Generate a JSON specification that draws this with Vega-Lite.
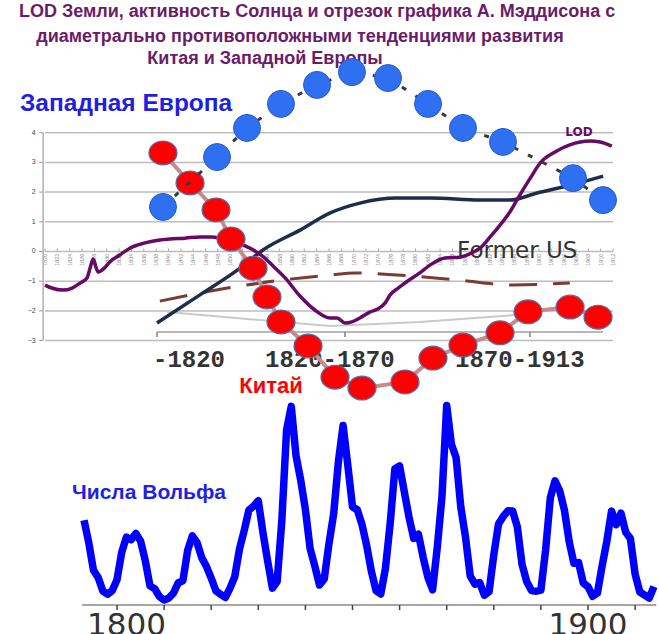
{
  "$schema": "https://vega.github.io/schema/vega-lite/v6.json",
  "width": 659,
  "height": 634,
  "autosize": "none",
  "padding": 0,
  "background": "white",
  "config": {"view": {"stroke": null}, "axis": {"grid": false}},
  "data": {"values": [{}]},
  "datasets": {
    "grid": [{"g": -3}, {"g": -2}, {"g": -1}, {"g": 0}, {"g": 1}, {"g": 2}, {"g": 3}, {"g": 4}],
    "ylabels": [{"yr": 1820}, {"yr": 1822}, {"yr": 1824}, {"yr": 1826}, {"yr": 1828}, {"yr": 1830}, {"yr": 1832}, {"yr": 1834}, {"yr": 1836}, {"yr": 1838}, {"yr": 1840}, {"yr": 1842}, {"yr": 1844}, {"yr": 1846}, {"yr": 1848}, {"yr": 1850}, {"yr": 1852}, {"yr": 1854}, {"yr": 1856}, {"yr": 1858}, {"yr": 1860}, {"yr": 1862}, {"yr": 1864}, {"yr": 1866}, {"yr": 1868}, {"yr": 1870}, {"yr": 1872}, {"yr": 1874}, {"yr": 1876}, {"yr": 1878}, {"yr": 1880}, {"yr": 1882}, {"yr": 1884}, {"yr": 1886}, {"yr": 1888}, {"yr": 1890}, {"yr": 1892}, {"yr": 1894}, {"yr": 1896}, {"yr": 1898}, {"yr": 1900}, {"yr": 1902}, {"yr": 1904}, {"yr": 1906}, {"yr": 1908}, {"yr": 1910}, {"yr": 1912}],
    "wticks": [{"yr": 1800}, {"yr": 1810}, {"yr": 1820}, {"yr": 1830}, {"yr": 1840}, {"yr": 1850}, {"yr": 1860}, {"yr": 1870}, {"yr": 1880}, {"yr": 1890}, {"yr": 1900}, {"yr": 1910}],
    "mticks": [{"year": 1838.14}, {"year": 1868.59}, {"year": 1898.55}],
    "lod": [
      {"year": 1820.0, "value": -1.13}, {"year": 1821.1, "value": -1.23}, {"year": 1822.9, "value": -1.30},
      {"year": 1824.4, "value": -1.23}, {"year": 1825.7, "value": -1.06}, {"year": 1826.8, "value": -0.89},
      {"year": 1827.3, "value": -0.56}, {"year": 1827.8, "value": -0.25}, {"year": 1828.3, "value": -0.56},
      {"year": 1828.6, "value": -0.69}, {"year": 1829.6, "value": -0.56}, {"year": 1830.5, "value": -0.35},
      {"year": 1832.1, "value": -0.12}, {"year": 1833.8, "value": 0.12}, {"year": 1836.2, "value": 0.29},
      {"year": 1838.6, "value": 0.39}, {"year": 1840.2, "value": 0.42}, {"year": 1842.7, "value": 0.45},
      {"year": 1845.1, "value": 0.49}, {"year": 1847.0, "value": 0.49}, {"year": 1848.7, "value": 0.42},
      {"year": 1850.8, "value": 0.29}, {"year": 1852.4, "value": 0.19}, {"year": 1854.0, "value": 0.02},
      {"year": 1855.6, "value": -0.22}, {"year": 1857.3, "value": -0.56}, {"year": 1858.9, "value": -0.89},
      {"year": 1861.3, "value": -1.50}, {"year": 1863.7, "value": -1.97}, {"year": 1866.2, "value": -2.24},
      {"year": 1867.3, "value": -2.24}, {"year": 1868.6, "value": -2.41}, {"year": 1869.7, "value": -2.37},
      {"year": 1871.0, "value": -2.24}, {"year": 1872.6, "value": -2.04}, {"year": 1873.9, "value": -1.94},
      {"year": 1875.1, "value": -1.73}, {"year": 1875.9, "value": -1.46}, {"year": 1877.2, "value": -1.23},
      {"year": 1878.3, "value": -1.06}, {"year": 1880.7, "value": -0.72}, {"year": 1882.4, "value": -0.45},
      {"year": 1884.8, "value": -0.22}, {"year": 1887.2, "value": -0.19}, {"year": 1888.8, "value": -0.08},
      {"year": 1890.5, "value": 0.12}, {"year": 1892.1, "value": 0.49}, {"year": 1893.7, "value": 0.89},
      {"year": 1895.3, "value": 1.33}, {"year": 1896.9, "value": 1.90}, {"year": 1898.6, "value": 2.47},
      {"year": 1900.2, "value": 2.98}, {"year": 1902.6, "value": 3.35}, {"year": 1905.0, "value": 3.59},
      {"year": 1908.3, "value": 3.72}, {"year": 1909.9, "value": 3.69}, {"year": 1911.8, "value": 3.55}
    ],
    "westtrend": [
      {"year": 1838.14, "value": -2.41}, {"year": 1845.1, "value": -1.46}, {"year": 1851.6, "value": -0.56},
      {"year": 1855.3, "value": 0.05}, {"year": 1861.3, "value": 0.72}, {"year": 1866.2, "value": 1.30},
      {"year": 1871.0, "value": 1.63}, {"year": 1877.0, "value": 1.80}, {"year": 1882.4, "value": 1.80},
      {"year": 1890.5, "value": 1.73}, {"year": 1895.3, "value": 1.73}, {"year": 1899.7, "value": 1.97},
      {"year": 1903.9, "value": 2.17}, {"year": 1910.4, "value": 2.54}
    ],
    "ussr": [
      {"year": 1838.6, "value": -1.67}, {"year": 1845.1, "value": -1.40}, {"year": 1850.5, "value": -1.20},
      {"year": 1858.5, "value": -0.96}, {"year": 1866.2, "value": -0.79}, {"year": 1870.2, "value": -0.72},
      {"year": 1877.0, "value": -0.79}, {"year": 1886.7, "value": -0.96}, {"year": 1895.8, "value": -1.13},
      {"year": 1905.0, "value": -1.06}
    ],
    "grayline": [
      {"year": 1839.8, "value": -2.04}, {"year": 1866.2, "value": -2.51}, {"year": 1880.7, "value": -2.37},
      {"year": 1896.1, "value": -2.14}
    ],
    "china": [
      {"year": 1839.11, "value": 3.32}, {"year": 1843.49, "value": 2.31}, {"year": 1847.70, "value": 1.40},
      {"year": 1850.13, "value": 0.42}, {"year": 1853.69, "value": -0.56}, {"year": 1855.96, "value": -1.53},
      {"year": 1858.22, "value": -2.37}, {"year": 1862.60, "value": -3.18}, {"year": 1866.97, "value": -4.23},
      {"year": 1871.34, "value": -4.60}, {"year": 1878.31, "value": -4.39}, {"year": 1882.84, "value": -3.59},
      {"year": 1887.70, "value": -3.15}, {"year": 1893.70, "value": -2.74}, {"year": 1898.23, "value": -2.03},
      {"year": 1905.04, "value": -1.87}, {"year": 1909.57, "value": -2.21}
    ],
    "westeurope": [
      {"year": 1839.11, "value": 1.50}, {"year": 1847.86, "value": 3.18}, {"year": 1852.72, "value": 4.16},
      {"year": 1858.22, "value": 4.97}, {"year": 1864.06, "value": 5.61}, {"year": 1869.72, "value": 6.04},
      {"year": 1875.56, "value": 5.84}, {"year": 1882.04, "value": 4.97}, {"year": 1887.70, "value": 4.16},
      {"year": 1894.18, "value": 3.69}, {"year": 1905.52, "value": 2.47}, {"year": 1910.38, "value": 1.73}
    ],
    "wolf": [
      {"year": 1793, "ssn": 57}, {"year": 1794, "ssn": 41}, {"year": 1795, "ssn": 21.3}, {"year": 1796, "ssn": 16},
      {"year": 1797, "ssn": 6.4}, {"year": 1798, "ssn": 4.1}, {"year": 1799, "ssn": 6.8}, {"year": 1800, "ssn": 14.5},
      {"year": 1801, "ssn": 34}, {"year": 1802, "ssn": 45}, {"year": 1803, "ssn": 43.1}, {"year": 1804, "ssn": 47.5},
      {"year": 1805, "ssn": 42.2}, {"year": 1806, "ssn": 28.1}, {"year": 1807, "ssn": 10.1}, {"year": 1808, "ssn": 8.1},
      {"year": 1809, "ssn": 2.5}, {"year": 1810, "ssn": 0}, {"year": 1811, "ssn": 1.4}, {"year": 1812, "ssn": 5},
      {"year": 1813, "ssn": 12.2}, {"year": 1814, "ssn": 13.9}, {"year": 1815, "ssn": 35.4}, {"year": 1816, "ssn": 45.8},
      {"year": 1817, "ssn": 41}, {"year": 1818, "ssn": 30.1}, {"year": 1819, "ssn": 23.9}, {"year": 1820, "ssn": 15.6},
      {"year": 1821, "ssn": 6.6}, {"year": 1822, "ssn": 4}, {"year": 1823, "ssn": 1.8}, {"year": 1824, "ssn": 8.5},
      {"year": 1825, "ssn": 16.6}, {"year": 1826, "ssn": 36.3}, {"year": 1827, "ssn": 49.6}, {"year": 1828, "ssn": 64.2},
      {"year": 1829, "ssn": 67}, {"year": 1830, "ssn": 70.9}, {"year": 1831, "ssn": 47.8}, {"year": 1832, "ssn": 27.5},
      {"year": 1833, "ssn": 8.5}, {"year": 1834, "ssn": 13.2}, {"year": 1835, "ssn": 56.9}, {"year": 1836, "ssn": 121.5},
      {"year": 1837, "ssn": 138.3}, {"year": 1838, "ssn": 103.2}, {"year": 1839, "ssn": 85.7}, {"year": 1840, "ssn": 64.6},
      {"year": 1841, "ssn": 36.7}, {"year": 1842, "ssn": 24.2}, {"year": 1843, "ssn": 10.7}, {"year": 1844, "ssn": 15},
      {"year": 1845, "ssn": 40.1}, {"year": 1846, "ssn": 61.5}, {"year": 1847, "ssn": 98.5}, {"year": 1848, "ssn": 124.7},
      {"year": 1849, "ssn": 96.3}, {"year": 1850, "ssn": 66.6}, {"year": 1851, "ssn": 64.5}, {"year": 1852, "ssn": 54.1},
      {"year": 1853, "ssn": 39}, {"year": 1854, "ssn": 20.6}, {"year": 1855, "ssn": 6.7}, {"year": 1856, "ssn": 4.3},
      {"year": 1857, "ssn": 22.7}, {"year": 1858, "ssn": 54.8}, {"year": 1859, "ssn": 93.8}, {"year": 1860, "ssn": 95.8},
      {"year": 1861, "ssn": 77.2}, {"year": 1862, "ssn": 59.1}, {"year": 1863, "ssn": 44}, {"year": 1864, "ssn": 47},
      {"year": 1865, "ssn": 30.5}, {"year": 1866, "ssn": 16.3}, {"year": 1867, "ssn": 7.3}, {"year": 1868, "ssn": 37.6},
      {"year": 1869, "ssn": 74}, {"year": 1870, "ssn": 139}, {"year": 1871, "ssn": 111.2}, {"year": 1872, "ssn": 101.6},
      {"year": 1873, "ssn": 66.2}, {"year": 1874, "ssn": 44.7}, {"year": 1875, "ssn": 17}, {"year": 1876, "ssn": 11.3},
      {"year": 1877, "ssn": 12.4}, {"year": 1878, "ssn": 3.4}, {"year": 1879, "ssn": 6}, {"year": 1880, "ssn": 32.3},
      {"year": 1881, "ssn": 54.3}, {"year": 1882, "ssn": 59.7}, {"year": 1883, "ssn": 63.7}, {"year": 1884, "ssn": 63.5},
      {"year": 1885, "ssn": 52.2}, {"year": 1886, "ssn": 25.4}, {"year": 1887, "ssn": 13.1}, {"year": 1888, "ssn": 6.8},
      {"year": 1889, "ssn": 6.3}, {"year": 1890, "ssn": 7.1}, {"year": 1891, "ssn": 35.6}, {"year": 1892, "ssn": 73},
      {"year": 1893, "ssn": 85.1}, {"year": 1894, "ssn": 78}, {"year": 1895, "ssn": 64}, {"year": 1896, "ssn": 41.8},
      {"year": 1897, "ssn": 26.2}, {"year": 1898, "ssn": 26.7}, {"year": 1899, "ssn": 12.1}, {"year": 1900, "ssn": 9.5},
      {"year": 1901, "ssn": 2.7}, {"year": 1902, "ssn": 5}, {"year": 1903, "ssn": 24.4}, {"year": 1904, "ssn": 42},
      {"year": 1905, "ssn": 63.5}, {"year": 1906, "ssn": 53.8}, {"year": 1907, "ssn": 62}, {"year": 1908, "ssn": 48.5},
      {"year": 1909, "ssn": 43.9}, {"year": 1910, "ssn": 18.6}, {"year": 1911, "ssn": 5.7}, {"year": 1912, "ssn": 3.6},
      {"year": 1913, "ssn": 1.4}, {"year": 1914, "ssn": 9.6}
    ]
  },
  "layer": [
    {
      "layer": [
        {
          "data": {"name": "grid"},
          "mark": {"type": "rule", "color": "#bdbdbd", "strokeWidth": 1.5},
          "encoding": {
            "x": {"datum": 1820, "type": "quantitative", "scale": {"domain": [1812.711, 1919.449], "nice": false, "zero": false}, "axis": null},
            "x2": {"datum": 1912},
            "y": {"field": "g", "type": "quantitative", "scale": {"domain": [-12.879, 8.468], "nice": false, "zero": false}, "axis": null}
          }
        },
        {
          "data": {"name": "grid"},
          "mark": {"type": "rule", "color": "#999999", "strokeWidth": 1},
          "encoding": {
            "x": {"datum": 1819.05, "type": "quantitative", "scale": {"domain": [1812.711, 1919.449], "nice": false, "zero": false}, "axis": null},
            "x2": {"datum": 1819.7},
            "y": {"field": "g", "type": "quantitative", "scale": {"domain": [-12.879, 8.468], "nice": false, "zero": false}, "axis": null}
          }
        },
        {
          "data": {"name": "grid"},
          "mark": {"type": "text", "font": "Liberation Sans", "fontSize": 7, "color": "#444444", "align": "right", "baseline": "middle"},
          "encoding": {
            "text": {"field": "g", "type": "quantitative"},
            "x": {"datum": 1818.5, "type": "quantitative", "scale": {"domain": [1812.711, 1919.449], "nice": false, "zero": false}, "axis": null},
            "y": {"field": "g", "type": "quantitative", "scale": {"domain": [-12.879, 8.468], "nice": false, "zero": false}, "axis": null}
          }
        },
        {
          "data": {"name": "ylabels"},
          "mark": {"type": "rule", "color": "#aaaaaa", "strokeWidth": 1},
          "encoding": {
            "x": {"field": "yr", "type": "quantitative", "scale": {"domain": [1812.711, 1919.449], "nice": false, "zero": false}, "axis": null},
            "y": {"datum": 0, "type": "quantitative", "scale": {"domain": [-12.879, 8.468], "nice": false, "zero": false}, "axis": null},
            "y2": {"datum": 0.1}
          }
        },
        {
          "data": {"name": "ylabels"},
          "mark": {"type": "text", "font": "Liberation Sans", "fontSize": 5.5, "color": "#8a8a8a", "angle": 270, "align": "right", "baseline": "middle"},
          "encoding": {
            "text": {"field": "yr", "type": "quantitative", "format": "d"},
            "x": {"field": "yr", "type": "quantitative", "scale": {"domain": [1812.711, 1919.449], "nice": false, "zero": false}, "axis": null},
            "y": {"datum": -0.07, "type": "quantitative", "scale": {"domain": [-12.879, 8.468], "nice": false, "zero": false}, "axis": null}
          }
        },
        {
          "mark": {"type": "rule", "color": "#b0b0b0", "strokeWidth": 1.5},
          "encoding": {
            "x": {"datum": 1819.7, "type": "quantitative", "scale": {"domain": [1812.711, 1919.449], "nice": false, "zero": false}, "axis": null},
            "y": {"datum": -3, "type": "quantitative", "scale": {"domain": [-12.879, 8.468], "nice": false, "zero": false}, "axis": null},
            "y2": {"datum": 4}
          }
        },
        {
          "mark": {"type": "rule", "color": "#a0a0a0", "strokeWidth": 1.5},
          "encoding": {
            "x": {"datum": 1838.14, "type": "quantitative", "scale": {"domain": [1812.711, 1919.449], "nice": false, "zero": false}, "axis": null},
            "x2": {"datum": 1910.38},
            "y": {"datum": -2.71, "type": "quantitative", "scale": {"domain": [-12.879, 8.468], "nice": false, "zero": false}, "axis": null}
          }
        },
        {
          "data": {"name": "mticks"},
          "mark": {"type": "rule", "color": "#808080", "strokeWidth": 1.5},
          "encoding": {
            "x": {"field": "year", "type": "quantitative", "scale": {"domain": [1812.711, 1919.449], "nice": false, "zero": false}, "axis": null},
            "y": {"datum": -2.71, "type": "quantitative", "scale": {"domain": [-12.879, 8.468], "nice": false, "zero": false}, "axis": null},
            "y2": {"datum": -2.88}
          }
        },
        {
          "mark": {"type": "text", "text": "LOD Земли, активность Солнца и отрезок графика  А. Мэддисона с", "font": "Liberation Sans", "fontWeight": "bold", "fontSize": 18, "color": "#6a1b6a", "align": "center", "baseline": "middle"},
          "encoding": {
            "x": {"datum": 1864.06, "type": "quantitative", "scale": {"domain": [1812.711, 1919.449], "nice": false, "zero": false}, "axis": null},
            "y": {"datum": 8.064, "type": "quantitative", "scale": {"domain": [-12.879, 8.468], "nice": false, "zero": false}, "axis": null}
          }
        },
        {
          "mark": {"type": "text", "text": "диаметрально противоположными тенденциями развития", "font": "Liberation Sans", "fontWeight": "bold", "fontSize": 18, "color": "#6a1b6a", "align": "center", "baseline": "middle"},
          "encoding": {
            "x": {"datum": 1861.3, "type": "quantitative", "scale": {"domain": [1812.711, 1919.449], "nice": false, "zero": false}, "axis": null},
            "y": {"datum": 7.222, "type": "quantitative", "scale": {"domain": [-12.879, 8.468], "nice": false, "zero": false}, "axis": null}
          }
        },
        {
          "mark": {"type": "text", "text": "Китая и Западной Европы", "font": "Liberation Sans", "fontWeight": "bold", "fontSize": 18, "color": "#6a1b6a", "align": "center", "baseline": "middle"},
          "encoding": {
            "x": {"datum": 1855.63, "type": "quantitative", "scale": {"domain": [1812.711, 1919.449], "nice": false, "zero": false}, "axis": null},
            "y": {"datum": 6.481, "type": "quantitative", "scale": {"domain": [-12.879, 8.468], "nice": false, "zero": false}, "axis": null}
          }
        },
        {
          "mark": {"type": "text", "text": "Западная Европа", "font": "Liberation Sans", "fontWeight": "bold", "fontSize": 24.5, "color": "#1f1fe0", "align": "left", "baseline": "middle"},
          "encoding": {
            "x": {"datum": 1815.95, "type": "quantitative", "scale": {"domain": [1812.711, 1919.449], "nice": false, "zero": false}, "axis": null},
            "y": {"datum": 4.97, "type": "quantitative", "scale": {"domain": [-12.879, 8.468], "nice": false, "zero": false}, "axis": null}
          }
        },
        {
          "mark": {"type": "text", "text": "Китай", "font": "Liberation Sans", "fontWeight": "bold", "fontSize": 22, "color": "#ff0000", "align": "center", "baseline": "middle"},
          "encoding": {
            "x": {"datum": 1856.6, "type": "quantitative", "scale": {"domain": [1812.711, 1919.449], "nice": false, "zero": false}, "axis": null},
            "y": {"datum": -4.52, "type": "quantitative", "scale": {"domain": [-12.879, 8.468], "nice": false, "zero": false}, "axis": null}
          }
        },
        {
          "data": {"name": "grayline"},
          "mark": {"type": "line", "color": "#cacaca", "strokeWidth": 2},
          "encoding": {
            "x": {"field": "year", "type": "quantitative", "scale": {"domain": [1812.711, 1919.449], "nice": false, "zero": false}, "axis": null},
            "y": {"field": "value", "type": "quantitative", "scale": {"domain": [-12.879, 8.468], "nice": false, "zero": false}, "axis": null}
          }
        },
        {
          "data": {"name": "ussr"},
          "mark": {"type": "line", "color": "#7b3b33", "strokeWidth": 3, "strokeDash": [28, 16], "interpolate": "monotone"},
          "encoding": {
            "x": {"field": "year", "type": "quantitative", "scale": {"domain": [1812.711, 1919.449], "nice": false, "zero": false}, "axis": null},
            "y": {"field": "value", "type": "quantitative", "scale": {"domain": [-12.879, 8.468], "nice": false, "zero": false}, "axis": null}
          }
        },
        {
          "data": {"name": "westtrend"},
          "mark": {"type": "line", "color": "#1c2e4a", "strokeWidth": 3.5, "interpolate": "monotone"},
          "encoding": {
            "x": {"field": "year", "type": "quantitative", "scale": {"domain": [1812.711, 1919.449], "nice": false, "zero": false}, "axis": null},
            "y": {"field": "value", "type": "quantitative", "scale": {"domain": [-12.879, 8.468], "nice": false, "zero": false}, "axis": null}
          }
        },
        {
          "mark": {"type": "text", "text": "Former US", "font": "DejaVu Sans", "fontSize": 23, "color": "#333333", "align": "left", "baseline": "middle"},
          "encoding": {
            "x": {"datum": 1886.74, "type": "quantitative", "scale": {"domain": [1812.711, 1919.449], "nice": false, "zero": false}, "axis": null},
            "y": {"datum": 0.03, "type": "quantitative", "scale": {"domain": [-12.879, 8.468], "nice": false, "zero": false}, "axis": null}
          }
        },
        {
          "data": {"name": "lod"},
          "mark": {"type": "line", "color": "#660a66", "strokeWidth": 3.5, "interpolate": "monotone"},
          "encoding": {
            "x": {"field": "year", "type": "quantitative", "scale": {"domain": [1812.711, 1919.449], "nice": false, "zero": false}, "axis": null},
            "y": {"field": "value", "type": "quantitative", "scale": {"domain": [-12.879, 8.468], "nice": false, "zero": false}, "axis": null}
          }
        },
        {
          "mark": {"type": "text", "text": "LOD", "font": "DejaVu Sans", "fontWeight": "bold", "fontSize": 12, "color": "#660a66", "align": "center", "baseline": "middle"},
          "encoding": {
            "x": {"datum": 1906.49, "type": "quantitative", "scale": {"domain": [1812.711, 1919.449], "nice": false, "zero": false}, "axis": null},
            "y": {"datum": 4.02, "type": "quantitative", "scale": {"domain": [-12.879, 8.468], "nice": false, "zero": false}, "axis": null}
          }
        },
        {
          "mark": {"type": "text", "text": "-1820", "font": "Liberation Mono", "fontWeight": "bold", "fontSize": 24, "color": "#333333", "align": "left", "baseline": "middle"},
          "encoding": {
            "x": {"datum": 1837.49, "type": "quantitative", "scale": {"domain": [1812.711, 1919.449], "nice": false, "zero": false}, "axis": null},
            "y": {"datum": -3.65, "type": "quantitative", "scale": {"domain": [-12.879, 8.468], "nice": false, "zero": false}, "axis": null}
          }
        },
        {
          "mark": {"type": "text", "text": "1820-1870", "font": "Liberation Mono", "fontWeight": "bold", "fontSize": 24, "color": "#333333", "align": "left", "baseline": "middle"},
          "encoding": {
            "x": {"datum": 1855.63, "type": "quantitative", "scale": {"domain": [1812.711, 1919.449], "nice": false, "zero": false}, "axis": null},
            "y": {"datum": -3.65, "type": "quantitative", "scale": {"domain": [-12.879, 8.468], "nice": false, "zero": false}, "axis": null}
          }
        },
        {
          "mark": {"type": "text", "text": "1870-1913", "font": "Liberation Mono", "fontWeight": "bold", "fontSize": 24, "color": "#333333", "align": "left", "baseline": "middle"},
          "encoding": {
            "x": {"datum": 1886.41, "type": "quantitative", "scale": {"domain": [1812.711, 1919.449], "nice": false, "zero": false}, "axis": null},
            "y": {"datum": -3.65, "type": "quantitative", "scale": {"domain": [-12.879, 8.468], "nice": false, "zero": false}, "axis": null}
          }
        },
        {
          "data": {"name": "china"},
          "mark": {"type": "line", "color": "#c98a8a", "strokeWidth": 4},
          "encoding": {
            "x": {"field": "year", "type": "quantitative", "scale": {"domain": [1812.711, 1919.449], "nice": false, "zero": false}, "axis": null},
            "y": {"field": "value", "type": "quantitative", "scale": {"domain": [-12.879, 8.468], "nice": false, "zero": false}, "axis": null}
          }
        },
        {
          "data": {"name": "china"},
          "mark": {"type": "point", "filled": true, "shape": "M -1 0 A 1 0.85 0 1 1 1 0 A 1 0.85 0 1 1 -1 0 Z", "size": 784, "color": "#ff0000", "opacity": 1, "stroke": "#5070b0", "strokeWidth": 1.2},
          "encoding": {
            "x": {"field": "year", "type": "quantitative", "scale": {"domain": [1812.711, 1919.449], "nice": false, "zero": false}, "axis": null},
            "y": {"field": "value", "type": "quantitative", "scale": {"domain": [-12.879, 8.468], "nice": false, "zero": false}, "axis": null}
          }
        },
        {
          "data": {"name": "westeurope"},
          "mark": {"type": "line", "color": "#3a3a3a", "strokeWidth": 3, "strokeDash": [5, 11]},
          "encoding": {
            "x": {"field": "year", "type": "quantitative", "scale": {"domain": [1812.711, 1919.449], "nice": false, "zero": false}, "axis": null},
            "y": {"field": "value", "type": "quantitative", "scale": {"domain": [-12.879, 8.468], "nice": false, "zero": false}, "axis": null}
          }
        },
        {
          "data": {"name": "westeurope"},
          "mark": {"type": "point", "filled": true, "shape": "circle", "size": 729, "color": "#2f6ff2", "opacity": 1, "stroke": "#2a5cc8", "strokeWidth": 1},
          "encoding": {
            "x": {"field": "year", "type": "quantitative", "scale": {"domain": [1812.711, 1919.449], "nice": false, "zero": false}, "axis": null},
            "y": {"field": "value", "type": "quantitative", "scale": {"domain": [-12.879, 8.468], "nice": false, "zero": false}, "axis": null}
          }
        }
      ]
    },
    {
      "layer": [
        {
          "mark": {"type": "rule", "color": "#8a8a8a", "strokeWidth": 1.5},
          "encoding": {
            "x": {"datum": 1792.6, "type": "quantitative", "scale": {"domain": [1775.159, 1915.074], "nice": false, "zero": false}, "axis": null},
            "x2": {"datum": 1914.5},
            "y": {"datum": -3.6, "type": "quantitative", "scale": {"domain": [-24.29, 428.57], "nice": false, "zero": false}, "axis": null}
          }
        },
        {
          "data": {"name": "wticks"},
          "mark": {"type": "rule", "color": "#444444", "strokeWidth": 1.5},
          "encoding": {
            "x": {"field": "yr", "type": "quantitative", "scale": {"domain": [1775.159, 1915.074], "nice": false, "zero": false}, "axis": null},
            "y": {"datum": -3.6, "type": "quantitative", "scale": {"domain": [-24.29, 428.57], "nice": false, "zero": false}, "axis": null},
            "y2": {"datum": -7.2}
          }
        },
        {
          "mark": {"type": "text", "text": "1800", "font": "DejaVu Sans", "fontSize": 31, "color": "#333333", "align": "center", "baseline": "top"},
          "encoding": {
            "x": {"datum": 1802, "type": "quantitative", "scale": {"domain": [1775.159, 1915.074], "nice": false, "zero": false}, "axis": null},
            "y": {"datum": -7.6, "type": "quantitative", "scale": {"domain": [-24.29, 428.57], "nice": false, "zero": false}, "axis": null}
          }
        },
        {
          "mark": {"type": "text", "text": "1900", "font": "DejaVu Sans", "fontSize": 31, "color": "#333333", "align": "center", "baseline": "top"},
          "encoding": {
            "x": {"datum": 1900, "type": "quantitative", "scale": {"domain": [1775.159, 1915.074], "nice": false, "zero": false}, "axis": null},
            "y": {"datum": -7.6, "type": "quantitative", "scale": {"domain": [-24.29, 428.57], "nice": false, "zero": false}, "axis": null}
          }
        },
        {
          "data": {"name": "wolf"},
          "mark": {"type": "line", "color": "#0000ff", "strokeWidth": 7.5, "strokeJoin": "round"},
          "encoding": {
            "x": {"field": "year", "type": "quantitative", "scale": {"domain": [1775.159, 1915.074], "nice": false, "zero": false}, "axis": null},
            "y": {"field": "ssn", "type": "quantitative", "scale": {"domain": [-24.29, 428.57], "nice": false, "zero": false}, "axis": null}
          }
        },
        {
          "mark": {"type": "text", "text": "Числа Вольфа", "font": "Liberation Sans", "fontWeight": "bold", "fontSize": 21, "color": "#1f1fe8", "align": "left", "baseline": "middle"},
          "encoding": {
            "x": {"datum": 1790.45, "type": "quantitative", "scale": {"domain": [1775.159, 1915.074], "nice": false, "zero": false}, "axis": null},
            "y": {"datum": 76.4, "type": "quantitative", "scale": {"domain": [-24.29, 428.57], "nice": false, "zero": false}, "axis": null}
          }
        }
      ]
    }
  ],
  "resolve": {"scale": {"x": "independent", "y": "independent"}, "axis": {"x": "independent", "y": "independent"}}
}
